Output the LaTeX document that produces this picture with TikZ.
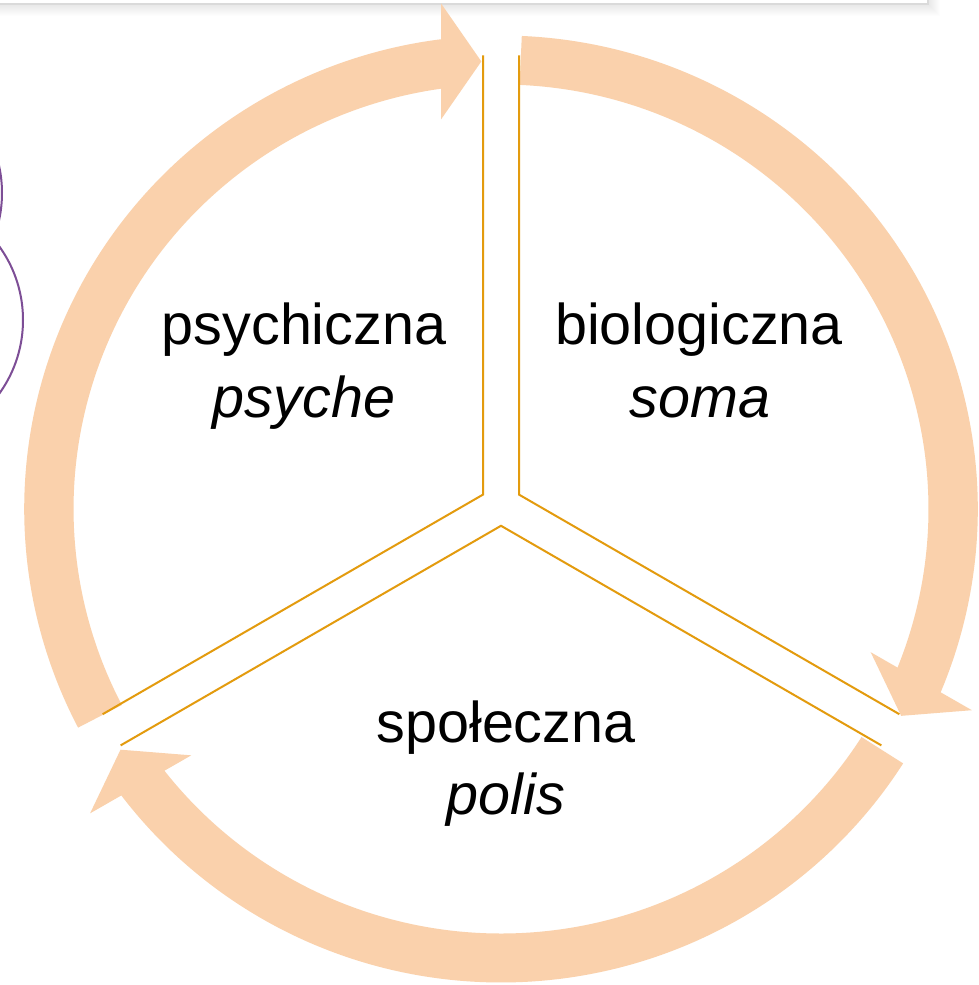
\documentclass[tikz,border=0pt]{standalone}
\usepackage{fontspec}
\setmainfont{Liberation Sans}
\usetikzlibrary{calc}
\definecolor{peach}{RGB}{250,209,172}
\definecolor{divline}{RGB}{227,155,14}
\definecolor{purp}{RGB}{125,78,150}
\definecolor{boxborder}{RGB}{218,218,218}
\begin{document}
\begin{tikzpicture}[x=1pt,y=1pt,
  labeltext/.style={font=\fontsize{57.5}{70}\selectfont, anchor=base, inner sep=0pt, text=black},
  ringband/.style={fill=peach},
  divider/.style={draw=divline, line width=2pt, line join=miter},
  purpring/.style={draw=purp, line width=2pt}]
\useasboundingbox (0,0) rectangle (979,985);
\clip (0,0) rectangle (979,985);
\fill[white] (0,0) rectangle (979,985);
% top box with soft shadow
\foreach \i in {1,...,12} \fill[black,opacity=0.006] (-20,{981-\i}) rectangle ({928+\i},1000);
\fill[white] (-20,981) rectangle (928,1000);
\draw[boxborder, line width=1.5pt] (-20,981) -- (928,981) -- (928,1000);
% purple circles at left edge
\draw[purpring] (-103,665) circle[radius=126pt];
\draw[purpring] (-124,792) circle[radius=126pt];
% ring of arrows
\coordinate (O) at (501,476);
\begin{scope}[shift={(O)}, xscale=1.007]
\foreach \t/\p in {207.5/92.5, 87.5/-27.5, -32.5/-147.5} {
  \pgfmathsetmacro\b{\p+4.5}
  \pgfmathsetmacro\a{\p-2.5}
  \fill[ringband] (\t:473.5pt) arc[start angle=\t, end angle=\b, radius=473.5pt]
     -- (\b:424.5pt) arc[start angle=\b, end angle=\t, radius=424.5pt] -- cycle;
  \fill[ringband] ({448*cos(\p)},{448*sin(\p)})
     -- ({448*cos(\p)+40*cos(\a+90)+58*cos(\a)},{448*sin(\p)+40*sin(\a+90)+58*sin(\a)})
     -- ({448*cos(\p)+40*cos(\a+90)-58*cos(\a)},{448*sin(\p)+40*sin(\a+90)-58*sin(\a)}) -- cycle;
}
\end{scope}
% dividers
\coordinate (C) at (501,480);
\coordinate (J150) at ($(C)+(150:20.78)$);
\coordinate (J30) at ($(C)+(30:20.78)$);
\coordinate (J270) at ($(C)+(270:20.78)$);
\coordinate (LV) at ($(C)+(-18,449.6)$);
\coordinate (RV) at ($(C)+(18,449.6)$);
\coordinate (ULd) at ($(C)+(210:449.6)+(120:18)$);
\coordinate (LLd) at ($(C)+(210:449.6)+(300:18)$);
\coordinate (URd) at ($(C)+(-30:449.6)+(60:18)$);
\coordinate (LRd) at ($(C)+(-30:449.6)+(240:18)$);
\draw[divider] (LV) -- (J150) -- (ULd);
\draw[divider] (RV) -- (J30) -- (URd);
\draw[divider] (LLd) -- (J270) -- (LRd);
% labels
\node[labeltext] (psyA) at (304,640) {psychiczna};
\node[labeltext] (psyB) at (304,567) {\itshape psyche};
\node[labeltext] (bioA) at (699,640) {biologiczna};
\node[labeltext] (bioB) at (700,567) {\itshape soma};
\node[labeltext] (spoA) at (506,242) {społeczna};
\node[labeltext] (spoB) at (506,170) {\itshape polis};
\end{tikzpicture}
\end{document}
